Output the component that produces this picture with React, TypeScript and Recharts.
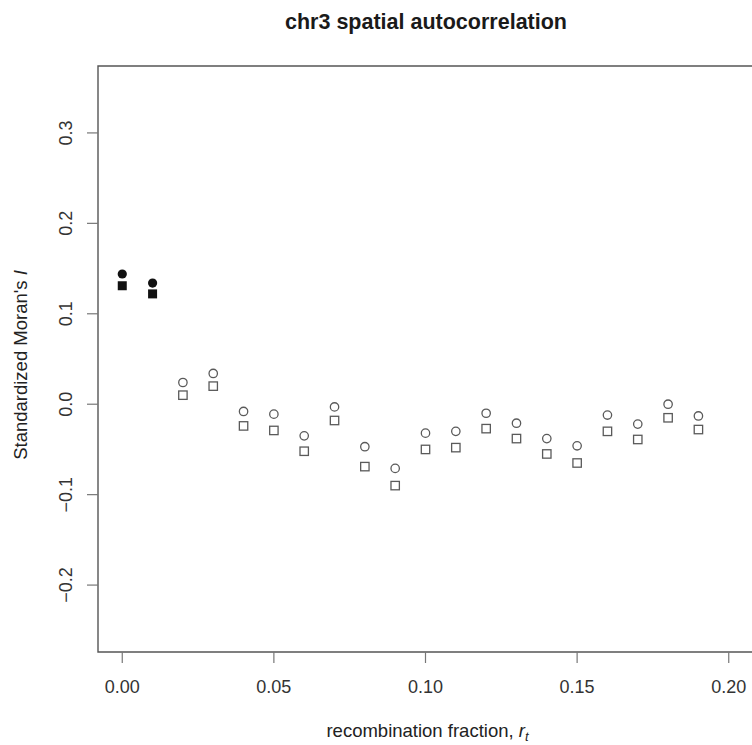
import React from 'react';
import {
    ScatterChart, Scatter, XAxis, YAxis, ReferenceArea,
} from 'recharts';

// recombination fraction r_t
const rfValues = [0, 0.01, 0.02, 0.03, 0.04, 0.05, 0.06, 0.07, 0.08, 0.09,
    0.1, 0.11, 0.12, 0.13, 0.14, 0.15, 0.16, 0.17, 0.18, 0.19];
// standardized Moran's I, circle series
const circleI = [0.144, 0.134, 0.024, 0.034, -0.008, -0.011, -0.035, -0.003, -0.047, -0.071,
    -0.032, -0.030, -0.010, -0.021, -0.038, -0.046, -0.012, -0.022, 0.000, -0.013];
// standardized Moran's I, square series
const squareI = [0.131, 0.122, 0.010, 0.020, -0.024, -0.029, -0.052, -0.018, -0.069, -0.090,
    -0.050, -0.048, -0.027, -0.038, -0.055, -0.065, -0.030, -0.039, -0.015, -0.028];
// filled markers = significant
const significant = [true, true, false, false, false, false, false, false, false, false,
    false, false, false, false, false, false, false, false, false, false];

const xTicks = [0, 0.05, 0.1, 0.15, 0.2];
const xTickLabels = ['0.00', '0.05', '0.10', '0.15', '0.20'];
const yTicks = [-0.2, -0.1, 0, 0.1, 0.2, 0.3];
const yTickLabels = ['\u22120.2', '\u22120.1', '0.0', '0.1', '0.2', '0.3'];

const X_DOMAIN: [number, number] = [-0.008, 0.208];
const Y_DOMAIN: [number, number] = [-0.274, 0.374];

const FONT = '"Liberation Sans", Arial, Helvetica, sans-serif';
const OPEN = '#5a5a5a';
const FILLED = '#111';

const circleData = rfValues.map((rf, i) => ({ rf, value: circleI[i], sig: significant[i] }));
const squareData = rfValues.map((rf, i) => ({ rf, value: squareI[i], sig: significant[i] }));

const CircleMark = (p: any) => {
    const { cx, cy, payload } = p;
    if (cx == null || cy == null) return null;
    return payload.sig
        ? <circle cx={cx} cy={cy} r={4.6} fill={FILLED} />
        : <circle cx={cx} cy={cy} r={4.2} fill="none" stroke={OPEN} strokeWidth={1.3} />;
};

const SquareMark = (p: any) => {
    const { cx, cy, payload } = p;
    if (cx == null || cy == null) return null;
    return payload.sig
        ? <rect x={cx - 4.5} y={cy - 4.5} width={9} height={9} fill={FILLED} />
        : <rect x={cx - 4.2} y={cy - 4.2} width={8.4} height={8.4} fill="none" stroke={OPEN} strokeWidth={1.3} />;
};

const XTick = ({ x, y, payload }: any) => {
    const i = xTicks.indexOf(payload.value);
    return (
        <text x={x} y={y} dy={28} textAnchor="middle" fontSize={18} fontFamily={FONT} fill="#333">
            {xTickLabels[i] ?? payload.value}
        </text>
    );
};

const YTick = ({ y, payload }: any) => {
    const i = yTicks.indexOf(payload.value);
    const bx = 72;
    return (
        <text x={bx} y={y} textAnchor="middle" transform={`rotate(-90, ${bx}, ${y})`}
            fontSize={18} fontFamily={FONT} fill="#333">
            {yTickLabels[i] ?? payload.value}
        </text>
    );
};

const XTitle = ({ viewBox }: any) => {
    const cx = viewBox.x + viewBox.width / 2 + 2;
    return (
        <text x={cx} y={737} textAnchor="middle" fontSize={18.5} fontFamily={FONT} fill="#222">
            recombination fraction, <tspan fontStyle="italic">r</tspan>
            <tspan fontStyle="italic" fontSize={13} dy={4}>t</tspan>
        </text>
    );
};

const YTitle = ({ viewBox }: any) => {
    const cy = viewBox.y + viewBox.height / 2 + 6;
    return (
        <text x={27} y={cy} textAnchor="middle" transform={`rotate(-90, 27, ${cy})`}
            fontSize={18.5} fontFamily={FONT} fill="#222">
            Standardized Moran's <tspan fontStyle="italic">I</tspan>
        </text>
    );
};

export default function App() {
    return (
        <div style={{ position: 'absolute', left: 0, top: 0, width: 752, height: 745, overflow: 'hidden', background: '#fff' }}>
            <ScatterChart width={760} height={745} margin={{ top: 66, right: 7, bottom: 0, left: 0 }}>
                <XAxis
                    type="number" dataKey="rf" domain={X_DOMAIN} ticks={xTicks} allowDataOverflow
                    axisLine={false} tickLine={{ stroke: '#777', strokeWidth: 1.2 }} tickSize={11}
                    tick={<XTick />} height={93} interval={0}
                    label={{ content: <XTitle /> }}
                />
                <YAxis
                    type="number" dataKey="value" domain={Y_DOMAIN} ticks={yTicks} allowDataOverflow
                    axisLine={false} tickLine={{ stroke: '#777', strokeWidth: 1.2 }} tickSize={11}
                    tick={<YTick />} width={98} interval={0}
                    label={{ content: <YTitle /> }}
                />
                <ReferenceArea
                    x1={X_DOMAIN[0]} x2={X_DOMAIN[1]} y1={Y_DOMAIN[0]} y2={Y_DOMAIN[1]}
                    fill="none" fillOpacity={0} stroke="#555" strokeWidth={1.4}
                />
                <Scatter data={squareData} shape={SquareMark} isAnimationActive={false} />
                <Scatter data={circleData} shape={CircleMark} isAnimationActive={false} />
            </ScatterChart>
            <svg width={752} height={745} style={{ position: 'absolute', left: 0, top: 0, pointerEvents: 'none' }}>
                <text x={426} y={29} textAnchor="middle" fontSize={21.5} fontWeight="bold" fontFamily={FONT} fill="#1a1a1a">
                    chr3 spatial autocorrelation
                </text>
            </svg>
        </div>
    );
}
